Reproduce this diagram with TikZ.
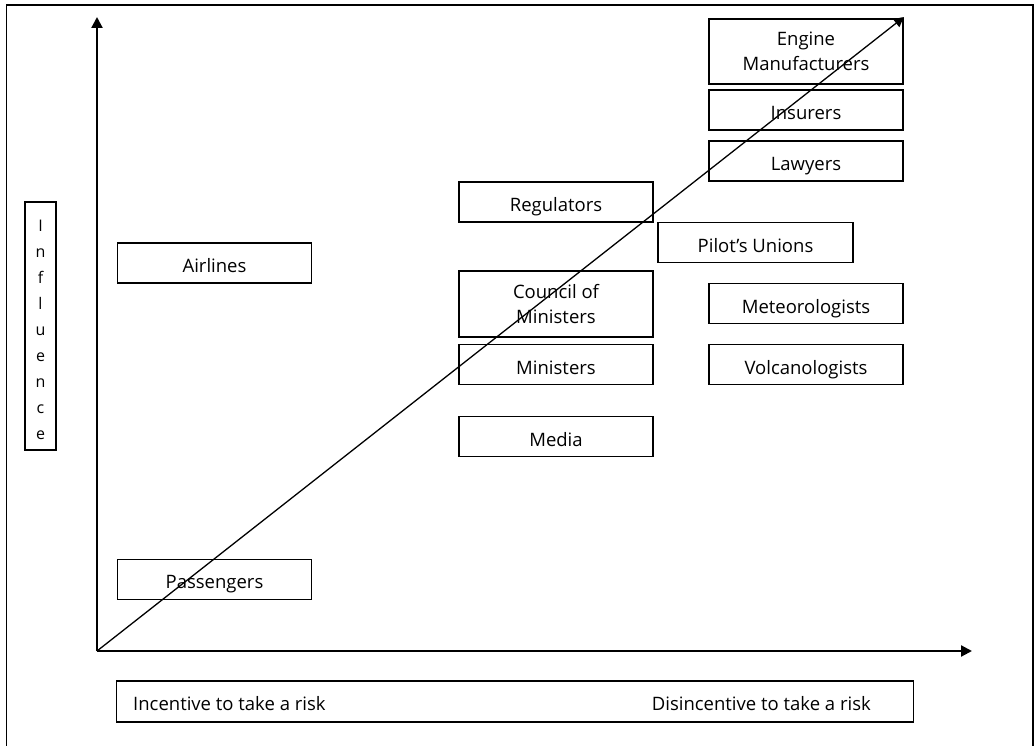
\documentclass[tikz,border=0pt]{standalone}
\usepackage{fontspec}
\setmainfont{Open Sans}
\usetikzlibrary{arrows.meta}
\begin{document}
\begin{tikzpicture}[x=1pt,y=-1pt,
  box/.style={draw=black, line width=1.3pt, inner sep=0pt, minimum width=194pt,
    minimum height=40pt, align=center, font=\fontsize{18.5}{25}\selectfont},
  oneline/.style={text height=19.4pt, text depth=0pt},
  axis/.style={line width=2.2pt, -{Triangle[length=11pt,width=11pt]}},
  trend/.style={line width=1.3pt, -{Triangle[length=10pt,width=10pt]}},
  note/.style={font=\fontsize{18.5}{25}\selectfont, inner sep=0pt}]
\useasboundingbox (0,0) rectangle (1035,746);
% frame, open at the bottom
\draw[line width=1.5pt] (6.5,746) -- (6.5,5) -- (1033,5) -- (1033,746);

% axes
\coordinate (o) at (97,651);
\coordinate (ytip) at (97,17);
\coordinate (xtip) at (972,651);
\coordinate (dtip) at (904,17);
\draw[axis] (o) -- (ytip);
\draw[axis] (o) -- (xtip);

% stakeholders
\node[box, minimum height=65pt] (engine) at (806,51.5) {Engine\\Manufacturers};
\node[box, oneline] (insurers) at (806,110) {Insurers};
\node[box, oneline] (lawyers) at (806,161) {Lawyers};
\node[box, oneline] (regulators) at (556,202) {Regulators};
\node[box, oneline, minimum width=195pt] (pilots) at (755.5,242.7) {Pilot’s Unions};
\node[box, minimum height=66pt] (council) at (556,304) {Council of\\Ministers};
\node[box, oneline] (ministers) at (556,364.8) {Ministers};
\node[box, oneline] (media) at (556,436.7) {Media};
\node[box, oneline] (meteo) at (806,303.8) {Meteorologists};
\node[box, oneline] (volcano) at (806,364.8) {Volcanologists};
\node[box, oneline] (airlines) at (214.5,263) {Airlines};
\node[box, oneline] (passengers) at (214.5,579.2) {Passengers};

% horizontal axis caption
\node[box, minimum width=796.6pt, minimum height=41pt] (xcap) at (515,701.5) {};
\node[note, anchor=base west] (incent) at (133,710) {Incentive to take a risk};
\node[note, anchor=base east] (disincent) at (871,710) {Disincentive to take a risk};

% vertical axis caption
\node[box, minimum width=31pt, minimum height=248pt] (ycap) at (40.5,326) {};
\node[inner sep=0pt, align=center, font=\fontsize{16}{26}\selectfont] (infl) at (40.5,329.5)
  {I\\n\\f\\l\\u\\e\\n\\c\\e};

% rising trend
\draw[trend] (o) -- (dtip);
\end{tikzpicture}
\end{document}
